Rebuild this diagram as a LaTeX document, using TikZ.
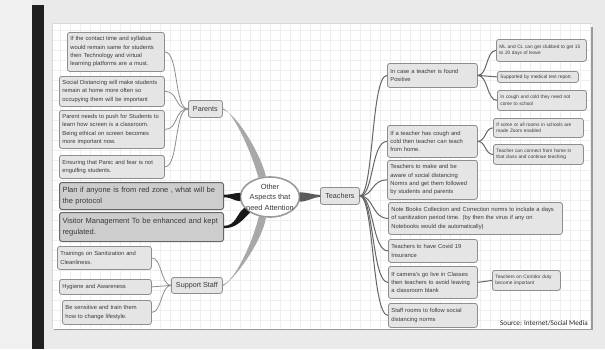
\documentclass[tikz,border=0pt]{standalone}
\usepackage{fontspec}
\setmainfont{Liberation Sans}
\newfontfamily\srcfont{Carlito}
\usepackage{tikz}
\usetikzlibrary{shapes.geometric}
\definecolor{pagegray}{HTML}{EAEAEA}
\definecolor{margingray}{HTML}{F0F0F0}
\definecolor{gridgray}{HTML}{EEEEEE}
\definecolor{boxfill}{HTML}{E5E5E5}
\definecolor{boxline}{HTML}{8E8E8E}
\definecolor{inkgray}{HTML}{3A3A3A}
\definecolor{linkgray}{HTML}{A8A8A8}
\definecolor{limbgray}{HTML}{666666}
\definecolor{zonefill}{HTML}{CDCDCD}
\definecolor{edgegray}{HTML}{9A9A9A}

\begin{document}
\begin{tikzpicture}[x=1pt,y=-1pt,
	topic/.style={draw=boxline,fill=boxfill,rounded corners=2.5pt,line width=0.8pt,text=inkgray,anchor=north west,inner xsep=3pt,inner ysep=1pt,align=left,font=\fontsize{5.8}{8.3}\selectfont},
	detail/.style={topic,font=\fontsize{4.8}{6.3}\selectfont},
	zone/.style={topic,fill=zonefill,draw=limbgray,line width=1pt,font=\fontsize{7.5}{11}\selectfont},
	branchbox/.style={topic,align=center,font=\fontsize{7.2}{9}\selectfont},
	hub/.style={ellipse,draw=edgegray,line width=1.6pt,fill=white,inner sep=0pt,minimum width=59pt,minimum height=40pt},
	bough/.style={fill=linkgray},
	stem/.style={fill=limbgray!90!black},
	darkbough/.style={fill=black!90},
	twig/.style={draw=boxline,line width=0.8pt},
	limb/.style={draw=limbgray,line width=1pt}]
	% page and panel
	\useasboundingbox (0,0) rectangle (605,349);
	\fill[pagegray] (0,0) rectangle (605,349);
	\fill[margingray] (0,0) rectangle (32,349);
	\fill[black!88] (32,5) rectangle (44,349);
	\fill[white] (52,23) rectangle (592,329);
	\draw[gridgray,line width=0.35pt] (52,23) grid[step=10pt] (592,329);
	\draw[black!15,line width=0.6pt] (52,329) -- (52,23) -- (592,23);
	\draw[edgegray,line width=1.6pt] (592,27) -- (592,329.5) -- (54,329.5);
	% centre
	\node[hub] (ctr) at (270,197) {};
	\node[text=inkgray,align=center,font=\fontsize{7.4}{10.5}\selectfont] (ctrtext) at (ctr) {Other\\Aspects that\\need Attention};
	% parents side
	\node[branchbox,minimum width=34pt,minimum height=17pt] (pa) at (188,100) {Parents};
	\node[topic,text width=91pt,minimum height=39pt] (p1) at (67,32) {If the contact time and syllabus\\would remain same for students\\then Technology and virtual\\learning platforms are a must.};
	\node[topic,text width=99pt,minimum height=30pt] (p2) at (59,76) {Social Distancing will make students\\remain at home more often so\\occupying them will be important};
	\node[topic,text width=99pt,minimum height=38pt] (p3) at (59,110) {Parent needs to push for Students to\\learn how screen is a classroom.\\Being ethical on screen becomes\\more important now.};
	\node[topic,text width=99pt,minimum height=23pt] (p4) at (59,155) {Ensuring that Panic and fear is not\\engulfing students.};
	% red zone and visitors
	\node[zone,text width=158pt,minimum height=27pt] (r1) at (59,182) {Plan if anyone is from red zone , what will be\\the protocol};
	\node[zone,text width=158pt,minimum height=29pt] (r2) at (59,212) {Visitor Management To be enhanced and kept\\regulated.};
	% support staff side
	\node[branchbox,minimum width=51pt,minimum height=16pt] (ss) at (171,277) {Support Staff};
	\node[topic,text width=88pt,minimum height=23pt] (s1) at (57,246) {Trainings on Sanitization and\\Cleanliness.};
	\node[topic,text width=86pt,minimum height=15pt] (s2) at (59,279) {Hygiene and Awareness};
	\node[topic,text width=83pt,minimum height=24pt] (s3) at (62,300) {Be sensitive and train them\\how to change lifestyle.};
	% teachers side
	\node[branchbox,minimum width=39pt,minimum height=17pt] (te) at (320,187) {Teachers};
	\node[topic,text width=84pt,minimum height=24pt] (t1) at (387,63) {In case a teacher is found\\Positive};
	\node[detail,text width=84pt,minimum height=22pt] (t1a) at (496,39) {ML and CL can get clubbed to get 15\\to 20 days of leave};
	\node[detail,text width=75pt,minimum height=11pt] (t1b) at (497,71) {Supported by medical test report.};
	\node[detail,text width=83pt,minimum height=20pt] (t1c) at (497,90) {In cough and cold they need not\\come to school};
	\node[topic,text width=84pt,minimum height=32pt] (t2) at (387,125) {If a teacher has cough and\\cold then teacher can teach\\from home.};
	\node[detail,text width=84pt,minimum height=19pt] (t2a) at (493,118) {If some or all rooms in schools are\\made Zoom enabled};
	\node[detail,text width=84pt,minimum height=20pt] (t2b) at (493,144) {Teacher can connect from home in\\that class and continue teaching};
	\node[topic,text width=84pt,minimum height=39pt] (t3) at (387,160) {Teachers to make and be\\aware of social distancing\\Norms and get them followed\\by students and parents};
	\node[topic,text width=168pt,minimum height=32pt] (t4) at (388,202) {Note Books Collection and Correction norms to include a days\\of sanitization period time. (by then the virus if any on\\Notebooks would die automatically)};
	\node[topic,text width=83pt,minimum height=23pt] (t5) at (388,239) {Teachers to have Covid 19\\Insurance};
	\node[topic,text width=83pt,minimum height=32pt] (t6) at (388,266) {If camera's go live in Classes\\then teachers to avoid leaving\\a classroom blank};
	\node[detail,text width=62pt,minimum height=20pt] (t6a) at (492,270) {Teachers on Corridor duty\\become important};
	\node[topic,text width=83pt,minimum height=24pt] (t7) at (388,303) {Staff rooms to follow social\\distancing norms};
	\node[anchor=east,inner sep=0pt,text=black!85,font=\srcfont\fontsize{7.2}{8}\selectfont] (src) at (588,323.5) {Source: Internet/Social Media};
	% links from the centre
	\fill[bough] ([yshift=0.8pt]pa.east) .. controls +(12,5) and +(-6,-22) .. (ctr.121) -- (ctr.101) .. controls +(-6,-24) and +(13,3) .. ([yshift=-0.8pt]pa.east) -- cycle;
	\fill[bough] ([yshift=0.8pt]ss.east) .. controls +(13,-4) and +(-5,22) .. (ctr.240) -- (ctr.259) .. controls +(-4,24) and +(12,-7) .. ([yshift=-0.8pt]ss.east) -- cycle;
	\fill[stem] (ctr.9) .. controls +(8,0) and +(-6,0) .. ([yshift=1pt]te.west) -- ([yshift=-1pt]te.west) .. controls +(-6,0) and +(8,0) .. (ctr.-9) -- cycle;
	\fill[darkbough] ([yshift=1.3pt]r1.east) .. controls +(8,0) and +(-6,0) .. (ctr.172) -- (ctr.188) .. controls +(-6,0) and +(8,0) .. ([yshift=-1.3pt]r1.east) -- cycle;
	\fill[darkbough] ([yshift=1.2pt]r2.east) .. controls +(12,0) and +(-8,6) .. (ctr.203) -- (ctr.218) .. controls +(-8,8) and +(12,0) .. ([yshift=-1.2pt]r2.east) -- cycle;
	% parents twigs
	\draw[twig] (pa.west) .. controls +(-14,0) and +(14,0) .. (p1.east);
	\draw[twig] (pa.west) .. controls +(-14,0) and +(14,0) .. (p2.east);
	\draw[twig] (pa.west) .. controls +(-14,0) and +(14,0) .. (p3.east);
	\draw[twig] (pa.west) .. controls +(-14,0) and +(14,0) .. (p4.east);
	% support staff twigs
	\draw[twig] (ss.west) .. controls +(-10,0) and +(10,0) .. (s1.east);
	\draw[twig] (ss.west) -- (s2.east);
	\draw[twig] (ss.west) .. controls +(-10,0) and +(10,0) .. (s3.east);
	% teachers limbs
	\draw[limb] (te.east) .. controls +(14,0) and +(-16,0) .. (t1.west);
	\draw[limb] (te.east) .. controls +(14,0) and +(-16,0) .. (t2.west);
	\draw[limb] (te.east) .. controls +(14,0) and +(-16,0) .. (t3.west);
	\draw[limb] (te.east) .. controls +(14,0) and +(-16,0) .. (t4.west);
	\draw[limb] (te.east) .. controls +(14,0) and +(-16,0) .. (t5.west);
	\draw[limb] (te.east) .. controls +(14,0) and +(-16,0) .. (t6.west);
	\draw[limb] (te.east) .. controls +(14,0) and +(-16,0) .. (t7.west);
	\draw[limb] (t1.east) .. controls +(10,0) and +(-10,0) .. (t1a.west);
	\draw[limb] (t1.east) .. controls +(10,0) and +(-10,0) .. (t1b.west);
	\draw[limb] (t1.east) .. controls +(10,0) and +(-10,0) .. (t1c.west);
	\draw[limb] (t2.east) .. controls +(8,0) and +(-8,0) .. (t2a.west);
	\draw[limb] (t2.east) .. controls +(8,0) and +(-8,0) .. (t2b.west);
	\draw[limb] (t6.east) -- (t6a.west);
\end{tikzpicture}
\end{document}
